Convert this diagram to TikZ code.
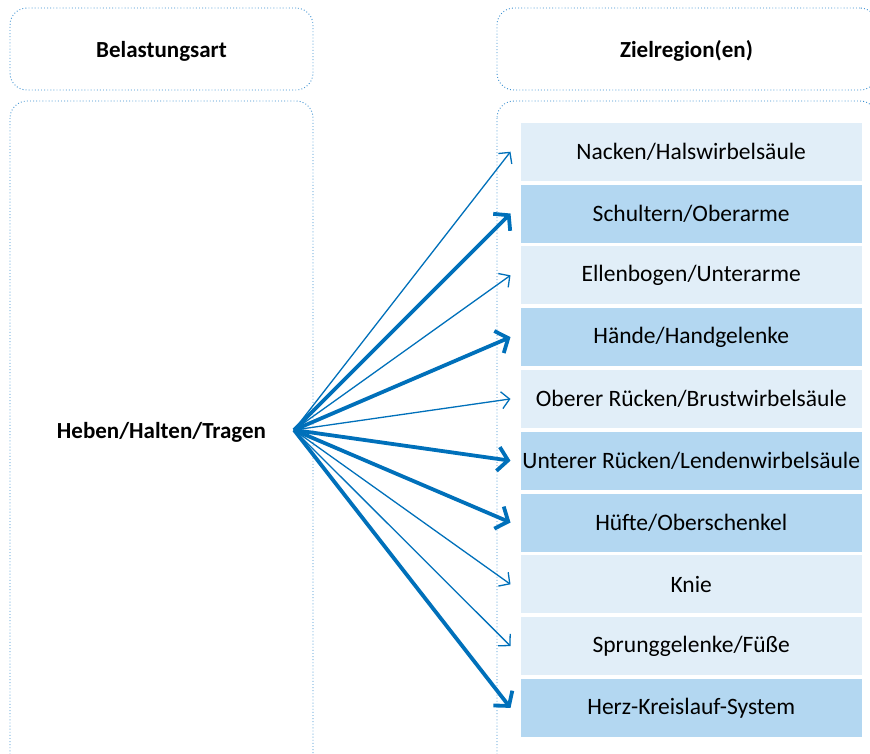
\documentclass[tikz,border=0pt]{standalone}
\usepackage{fontspec}
\setmainfont{Carlito}
\usetikzlibrary{arrows.meta}
\definecolor{lightrow}{HTML}{E1EEF8}
\definecolor{darkrow}{HTML}{B3D7F1}
\definecolor{arrowblue}{HTML}{0070BA}
\definecolor{dotblue}{HTML}{3A8FD0}
\tikzset{
  panel/.style={draw=dotblue, line width=0.9pt, dash pattern=on 0.9pt off 2.2pt, rounded corners=17pt},
  rowbox/.style={minimum width=341pt, minimum height=58pt, inner sep=0pt, font=\fontsize{23.5}{28}\selectfont},
  lightrowbox/.style={rowbox, fill=lightrow},
  darkrowbox/.style={rowbox, fill=darkrow},
  thinarrow/.style={draw=arrowblue, line width=1.3pt, -{Straight Barb[length=8pt, width=17pt, line width=1.3pt]}},
  thickarrow/.style={draw=arrowblue, line width=3.8pt, -{Straight Barb[length=10pt, width=24pt, line width=3.8pt]}},
  headtext/.style={font=\bfseries\fontsize{23}{28}\selectfont}
}
\begin{document}
\begin{tikzpicture}[x=1pt,y=-1pt]
\useasboundingbox (0,0) rectangle (870,753);
\begin{scope}
\clip (0,0) rectangle (870,753);
\node[panel, minimum width=303pt, minimum height=82pt] (h1) at (161.5,49) {};
\node[headtext] at (161.5,51) {Belastungsart};
\node[panel, minimum width=380pt, minimum height=82pt] (h2) at (687,49) {};
\node[headtext] at (686.5,51) {Zielregion(en)};
\draw[panel] (10,101) rectangle (313,775);
\draw[panel] (497,101) rectangle (877,775);

\node[lightrowbox] (r1) at (691.2,151.7) {Nacken/Halswirbelsäule};
\node[darkrowbox]  (r2) at (691.2,213.5) {Schultern/Oberarme};
\node[lightrowbox] (r3) at (691.2,275.3) {Ellenbogen/Unterarme};
\node[darkrowbox]  (r4) at (691.2,337.1) {Hände/Handgelenke};
\node[lightrowbox] (r5) at (691.2,398.9) {Oberer Rücken/Brustwirbelsäule};
\node[darkrowbox]  (r6) at (691.2,460.7) {Unterer Rücken/Lendenwirbelsäule};
\node[darkrowbox]  (r7) at (691.2,522.5) {Hüfte/Oberschenkel};
\node[lightrowbox] (r8) at (691.2,584.3) {Knie};
\node[lightrowbox] (r9) at (691.2,646.1) {Sprunggelenke/Füße};
\node[darkrowbox]  (r10) at (691.2,707.9) {Herz-Kreislauf-System};

\node[headtext] (src) at (161.5,432) {Heben/Halten/Tragen};
\coordinate (o) at (294,430);

\foreach \r in {r1,r3,r5,r8,r9}
  \draw[thinarrow] (o) -- ([xshift=-10pt]\r.west);
\foreach \r in {r2,r4,r6,r7,r10}
  \draw[thickarrow] (o) -- ([xshift=-10pt]\r.west);
\end{scope}
\end{tikzpicture}
\end{document}
